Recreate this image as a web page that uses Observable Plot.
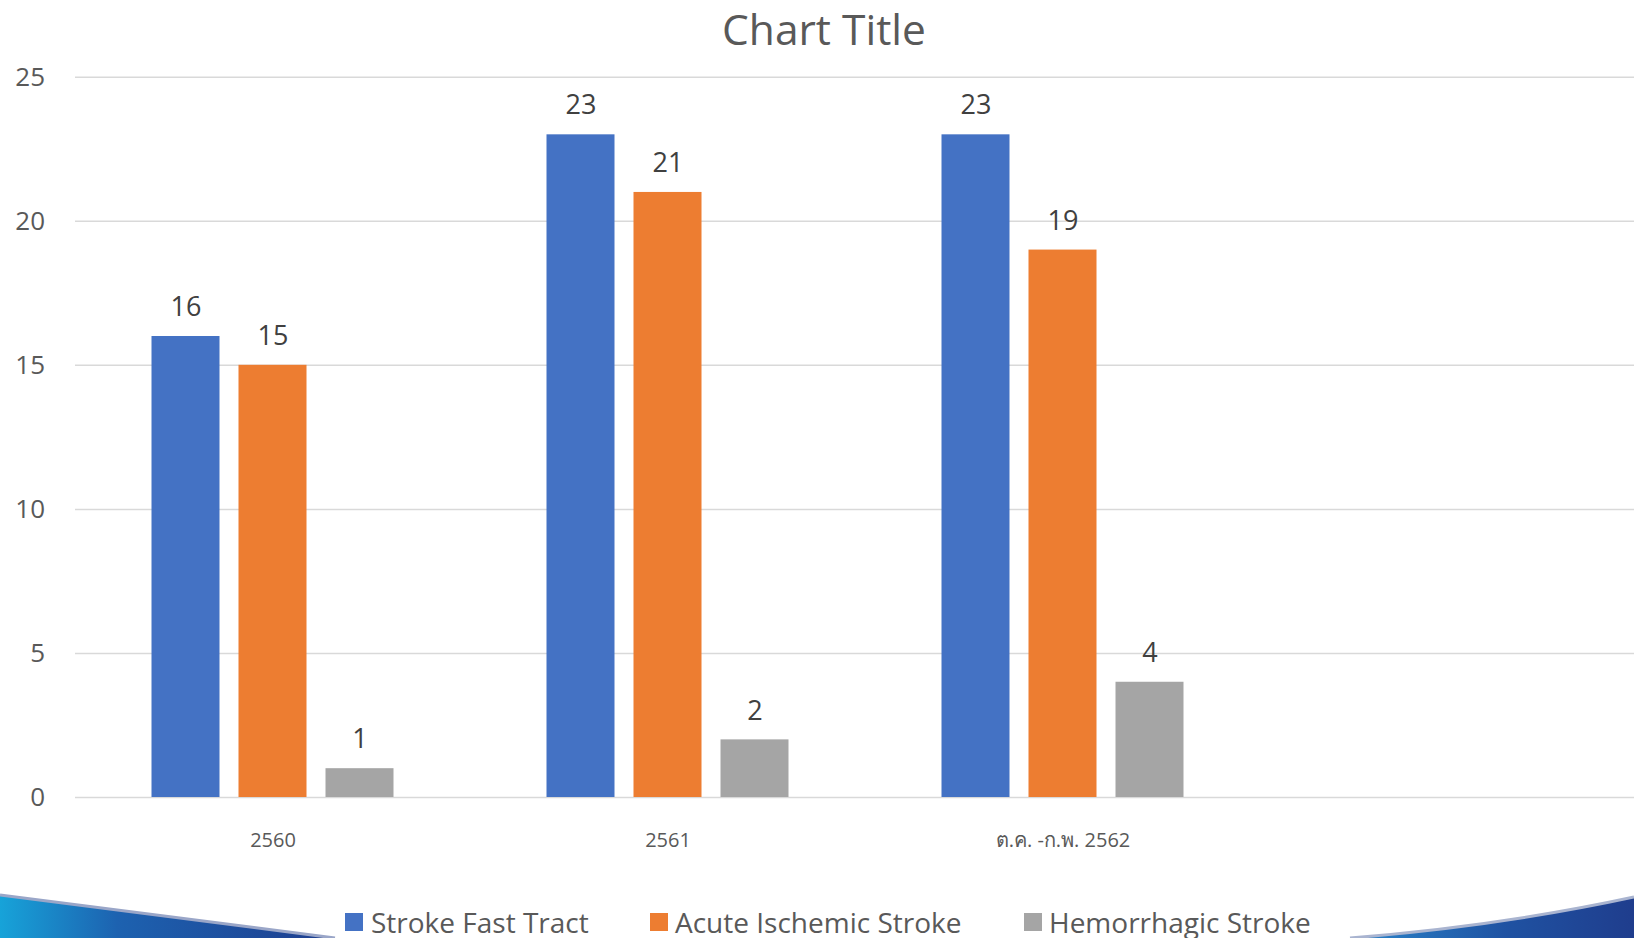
<!DOCTYPE html>
<html>
<head>
<meta charset="utf-8">
<script src="https://cdn.jsdelivr.net/npm/d3@7"></script>
<script src="https://cdn.jsdelivr.net/npm/@observablehq/plot@0.6"></script>
<style>
html, body { margin: 0; padding: 0; background: #fff; overflow: hidden; width: 1634px; height: 938px; }
body { position: relative; font-family: "Open Sans", sans-serif; }
#title { width: 1634px; height: 58px; line-height: 58px; font-size: 42.5px; color: #595959; text-align: center; padding-left: 14px; box-sizing: border-box; }
#chart svg { display: block; overflow: visible; }
#deco { position: absolute; left: 0; top: 0; width: 1634px; height: 938px; pointer-events: none; }
#legend { position: absolute; left: 0; top: 880px; width: 1634px; height: 58px; }
.sw { position: absolute; top: 33px; width: 18px; height: 18px; }
.lt { position: absolute; top: 24px; height: 36px; line-height: 36px; font-size: 28px; color: #595959; white-space: nowrap; }
</style>
</head>
<body>
<div id="title">Chart Title</div>
<div id="chart"></div>
<svg id="deco" viewBox="0 0 1634 938">
  <defs>
    <linearGradient id="gl" x1="0" x2="1" y1="0" y2="0">
      <stop offset="0" stop-color="#17a3d9"/>
      <stop offset="0.35" stop-color="#1d62b0"/>
      <stop offset="1" stop-color="#1e3d8e"/>
    </linearGradient>
    <linearGradient id="gr" x1="0" x2="1" y1="0" y2="0">
      <stop offset="0" stop-color="#2a86cc"/>
      <stop offset="0.55" stop-color="#1f52a2"/>
      <stop offset="1" stop-color="#1f3d8d"/>
    </linearGradient>
  </defs>
  <path d="M0,895 Q170,917 335,938 L0,938 Z" fill="url(#gl)"/>
  <path d="M0,895 Q170,917 335,938" fill="none" stroke="#9aa6c8" stroke-width="3"/>
  <path d="M1350,938 Q1500,926 1634,897 L1634,938 Z" fill="url(#gr)"/>
  <path d="M1350,938 Q1500,926 1634,897" fill="none" stroke="#a9b4d0" stroke-width="3"/>
</svg>
<div id="legend"></div>
<script>
// ---- data ----
const categories = ["2560", "2561", "ต.ค. -ก.พ. 2562"];
const seriesNames = ["Stroke Fast Tract", "Acute Ischemic Stroke", "Hemorrhagic Stroke"];
const strokeFastTract = [16, 23, 23];
const acuteIschemicStroke = [15, 21, 19];
const hemorrhagicStroke = [1, 2, 4];
const seriesColors = ["#4472C4", "#ED7D31", "#A5A5A5"];
const yTicks = [0, 5, 10, 15, 20, 25];
const emptyCategory = " ";

const seriesValues = [strokeFastTract, acuteIschemicStroke, hemorrhagicStroke];
const rows = [];
categories.forEach((c, i) => {
  seriesNames.forEach((s, j) => rows.push({category: c, series: s, value: seriesValues[j][i]}));
});
const allCategories = [...categories, emptyCategory];
const gridRows = allCategories.flatMap(c => yTicks.map(t => ({category: c, tick: t})));

const chart = Plot.plot({
  width: 1634,
  height: 822,
  marginTop: 18.7,
  marginBottom: 83,
  marginLeft: 74.5,
  marginRight: -20.5,
  style: {fontFamily: "'Open Sans', sans-serif", background: "transparent", overflow: "visible"},
  fx: {domain: allCategories, padding: 0, label: null, axis: null},
  x: {domain: seriesNames, paddingInner: 0.217, paddingOuter: 0.863, axis: null},
  y: {domain: [0, 25], axis: null},
  color: {domain: seriesNames, range: seriesColors},
  marks: [
    Plot.ruleY(gridRows, {fx: "category", y: "tick", stroke: "#d9d9d9", strokeWidth: 1.5}),
    Plot.barY(rows, {fx: "category", x: "series", y: "value", fill: "series"}),
    Plot.text(rows, {fx: "category", x: "series", y: "value", text: d => String(d.value), dy: -29, fontSize: 27, fill: "#404040"}),
    Plot.axisY(yTicks, {tickSize: 0, tickPadding: 30.5, fontSize: 26, fill: "#595959", label: null}),
    Plot.axisFx({anchor: "bottom", tickSize: 0, tickPadding: 35, fontSize: 20, fill: "#595959", label: null})
  ]
});
document.getElementById("chart").appendChild(chart);

// ---- legend ----
const swatchLeft = [345, 650, 1024];
const textLeft = [371, 675, 1049];
const legend = document.getElementById("legend");
seriesNames.forEach((s, i) => {
  const sw = document.createElement("div");
  sw.className = "sw";
  sw.style.left = swatchLeft[i] + "px";
  sw.style.background = seriesColors[i];
  legend.appendChild(sw);
  const t = document.createElement("div");
  t.className = "lt";
  t.style.left = textLeft[i] + "px";
  t.textContent = s;
  legend.appendChild(t);
});
</script>
</body>
</html>
